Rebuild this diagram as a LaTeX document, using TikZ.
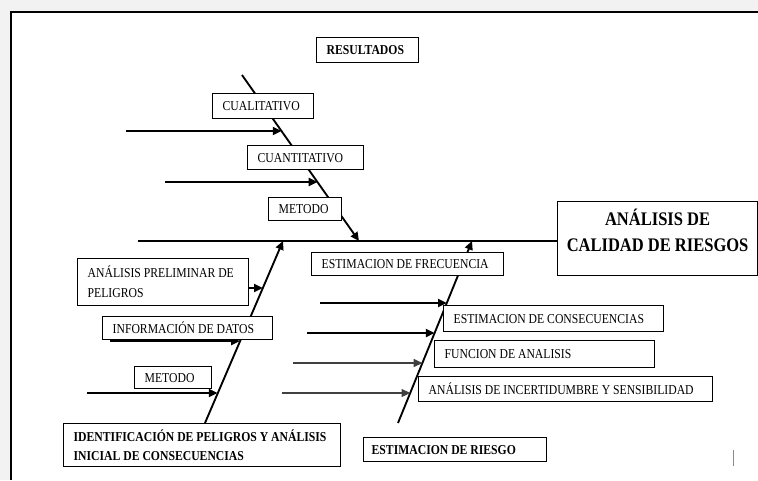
\documentclass[tikz,border=0pt]{standalone}
\usepackage{fontspec}
\setmainfont{Liberation Serif}[FakeStretch=0.86]
\usetikzlibrary{arrows.meta,calc}

% a framed box with a left-aligned label inside it
\newcommand{\labelbox}[7][]{%
  \node[frame, minimum width={(#5-#3)*0.75pt}, minimum height={(#6-#4)*0.75pt},
        anchor=north west] (#2) at (#3,#4) {};
  \node[lbl, #1] (#2-t) at ([xshift=7.8pt]#2.west) {#7};}

\begin{document}
\begin{tikzpicture}[x=0.75pt,y=-0.75pt,
  frame/.style={draw=black, line width=0.9pt, fill=white, inner sep=0pt},
  lbl/.style={inner sep=0pt, anchor=west, align=left,
              font=\fontsize{10.2}{15}\selectfont},
  boldlbl/.style={font=\fontsize{10.2}{14.3}\selectfont\bfseries},
  biglbl/.style={inner sep=0pt, align=center,
                 font=\fontsize{14.4}{19.5}\selectfont\bfseries},
  bone/.style={line width=1.3pt},
  arr/.style={line width=1.4pt, -{Triangle[length=6.5pt,width=6pt]}},
  faint/.style={line width=1pt, draw=black!75},
]
\useasboundingbox (0,0) rectangle (758,480);
\fill[black!5] (0,0) rectangle (758,480);
\fill[white] (11,12) rectangle (758,480);
\draw[line width=1.5pt] (11,480) -- (11,12) -- (758,12);

% spine end points and points where the ribs meet them
\coordinate (topS) at (242,75);
\coordinate (topE) at (359,241);
\coordinate (llS)  at (205,423);
\coordinate (llE)  at (283,241);
\coordinate (lrS)  at (398,423);
\coordinate (lrE)  at (472,241);
\coordinate (mainS) at (138,241);

\coordinate (t1) at (126,131);   \coordinate (h1) at (281.5,131);
\coordinate (t2) at (165,182);   \coordinate (h2) at (317.4,182);
\coordinate (h3) at (262.7,288);
\coordinate (t4) at (110,341);   \coordinate (h4) at (239.9,341);
\coordinate (t5) at (87,393);    \coordinate (h5) at (217.5,393);
\coordinate (r1) at (320,303);   \coordinate (g1) at (446.8,303);
\coordinate (r2) at (307,333);   \coordinate (g2) at (434.6,333);
\coordinate (r3) at (293,363);   \coordinate (g3) at (422.4,363);
\coordinate (r4) at (282,393);   \coordinate (g4) at (410.2,393);

% main box first so the backbone can end on it
\node[frame, minimum width={200*0.75pt}, minimum height={74*0.75pt},
      anchor=north west] (main) at (557,201) {};
\node[biglbl] (main-t) at ([yshift=6pt]main.center) {ANÁLISIS DE\\CALIDAD DE RIESGOS};

% backbone and spines
\draw[bone] (mainS) -- (mainS -| main.west);
\draw[arr] (topS) -- (topE);
\draw[arr] (llS) -- (llE);
\draw[arr] (lrS) -- (lrE);

% ribs
\draw[arr] (t1) -- (h1);
\draw[arr] (t2) -- (h2);
\draw[arr] (t4) -- (h4);
\draw[arr] (t5) -- (h5);
\draw[arr] (r1) -- (g1);
\draw[arr] (r2) -- (g2);
\draw[arr, faint] (r3) -- (g3);
\draw[arr, faint] (r4) -- (g4);

% boxes
\labelbox[boldlbl]{res}{316}{37}{418}{62}{RESULTADOS}
\labelbox{cual}{212}{93}{313}{118}{CUALITATIVO}
\labelbox{cuan}{247}{145}{363}{169}{CUANTITATIVO}
\labelbox{met1}{268}{197}{341}{220}{METODO}
\labelbox{prel}{77}{258}{248}{305}{ANÁLISIS PRELIMINAR DE\\PELIGROS}
\labelbox{info}{102}{316}{272}{339}{INFORMACIÓN DE DATOS}
\labelbox{met2}{134}{366}{211}{388}{METODO}
\labelbox[boldlbl]{iden}{63}{423}{340}{466}{IDENTIFICACIÓN DE PELIGROS Y ANÁLISIS\\INICIAL DE CONSECUENCIAS}
\labelbox{frec}{311}{252}{503}{275}{ESTIMACION DE FRECUENCIA}
\labelbox{cons}{443}{305}{663}{331}{ESTIMACION DE CONSECUENCIAS}
\labelbox{func}{434}{340}{654}{367}{FUNCION DE ANALISIS}
\labelbox{ince}{418}{376}{712}{401}{ANÁLISIS DE INCERTIDUMBRE Y SENSIBILIDAD}
\labelbox[boldlbl, xshift=-1.5pt]{ries}{363}{437}{546}{461}{ESTIMACION DE RIESGO}

% rib leaving the preliminary-analysis box
\draw[arr] (prel.east |- h3) -- (h3);

% stray mark near the lower right
\draw[black!45, line width=0.6pt] (733,450) -- (733,466);
\end{tikzpicture}
\end{document}
